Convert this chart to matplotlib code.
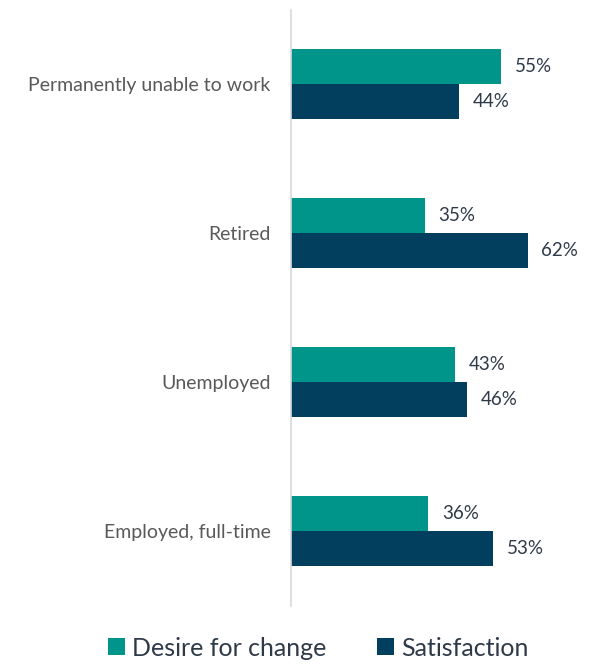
import matplotlib.pyplot as plt
import numpy as np

plt.rcParams['font.family'] = ['Lato', 'DejaVu Sans']

# Survey groups, top to bottom
categories = ['Permanently unable to work', 'Retired', 'Unemployed', 'Employed, full-time']
desire = [55, 35, 43, 36]
satisfaction = [44, 62, 46, 53]
series_names = ['Desire for change', 'Satisfaction']

teal = '#00958A'
navy = '#023F5F'

fig = plt.figure(figsize=(5.95, 6.68), dpi=100)
ax = fig.add_axes([291 / 595, 62.5 / 668, 294 / 595, 596 / 668])

y = np.arange(len(categories))
h = 0.235
b1 = ax.barh(y - h / 2, desire, height=h, color=teal, label=series_names[0])
b2 = ax.barh(y + h / 2, satisfaction, height=h, color=navy, label=series_names[1])

for bars, vals in ((b1, desire), (b2, satisfaction)):
    for bar, v in zip(bars, vals):
        ax.text(v + 3.6, bar.get_y() + bar.get_height() / 2, f'{v}%',
                va='center', ha='left', fontsize=13.5, color='#2E3A48')

ax.set_ylim(len(categories) - 0.5, -0.5)
ax.set_xlim(0, 77)
ax.set_yticks(y)
ax.set_yticklabels(categories, fontsize=14, color='#595959')
ax.tick_params(axis='y', length=0, pad=14.5)
ax.set_xticks([])

for side in ('top', 'right', 'bottom'):
    ax.spines[side].set_visible(False)
ax.spines['left'].set_color('#D9D9D9')
ax.spines['left'].set_linewidth(1.2)

fig.legend(handles=[b1, b2], labels=series_names, loc='center',
           bbox_to_anchor=(318 / 595, 20 / 668), ncol=2, frameon=False,
           fontsize=18, handlelength=0.68, handleheight=0.68,
           handletextpad=0.3, columnspacing=2.0, labelcolor='#2E3A48')

fig.savefig('out.png', dpi=100)
